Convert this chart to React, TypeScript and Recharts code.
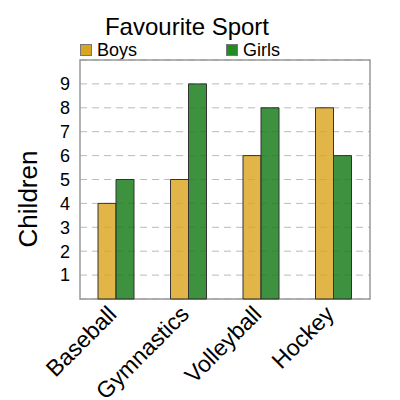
import { BarChart, Bar, XAxis, YAxis, CartesianGrid, ReferenceArea, Label } from 'recharts';

const sports = ['Baseball', 'Gymnastics', 'Volleyball', 'Hockey'];
const boys = [4, 5, 6, 8];
const girls = [5, 9, 8, 6];
const yTicks = [1, 2, 3, 4, 5, 6, 7, 8, 9];

const data = sports.map((sport, i) => ({ sport, boys: boys[i], girls: girls[i] }));

const FONT = '"Liberation Sans", Arial, sans-serif';

const SportTick = ({ x, y, payload }: any) => (
    <g transform={`translate(${x - 10},${y - 3}) rotate(-45)`}>
        <text textAnchor="end" dy="0.72em" fontSize={23} fill="#000" fontFamily={FONT}>
            {payload.value}
        </text>
    </g>
);

const YTitle = () => (
    <text
        transform="translate(28,199) rotate(-90)"
        textAnchor="middle"
        dominantBaseline="central"
        fontSize={26}
        fill="#000"
        fontFamily={FONT}
    >
        Children
    </text>
);

const LegendBox = ({ left, color, label }: { left: number; color: string; label: string }) => (
    <div style={{ position: 'absolute', left, top: 40, display: 'flex', alignItems: 'center' }}>
        <div style={{ width: 10, height: 10, background: color, border: '1px solid #777' }} />
        <span style={{ marginLeft: 5, fontSize: 18, lineHeight: '20px' }}>{label}</span>
    </div>
);

export default function App() {
    return (
        <div style={{ position: 'absolute', left: 0, top: 0, width: 400, height: 400, background: '#fff', fontFamily: FONT }}>
            <div style={{ position: 'absolute', left: 0, width: 374, top: 13, textAlign: 'center', fontSize: 24, lineHeight: '28px' }}>
                Favourite Sport
            </div>
            <LegendBox left={80} color="#DAA520" label="Boys" />
            <LegendBox left={226} color="#228B22" label="Girls" />

            <BarChart
                width={400}
                height={400}
                data={data}
                margin={{ top: 60, right: 30, left: 0, bottom: 0 }}
                barGap={0}
                barSize={18}
            >
                <CartesianGrid vertical={false} strokeDasharray="7 5" stroke="#bbb" />
                <XAxis
                    dataKey="sport"
                    height={101}
                    axisLine={false}
                    tickLine={false}
                    interval={0}
                    tick={<SportTick />}
                />
                <YAxis
                    width={80}
                    domain={[0, 10]}
                    ticks={yTicks}
                    interval={0}
                    axisLine={false}
                    tickLine={false}
                    tickSize={0}
                    tickMargin={10}
                    tick={{ fontSize: 18, fill: '#000', fontFamily: FONT }}
                >
                    <Label content={<YTitle />} />
                </YAxis>
                <ReferenceArea y1={0} y2={10} fill="none" stroke="#999" strokeWidth={1.5} />
                <Bar dataKey="boys" fill="#DAA520" fillOpacity={0.82} stroke="#333" isAnimationActive={false} />
                <Bar dataKey="girls" fill="#1C7E1C" fillOpacity={0.85} stroke="#333" isAnimationActive={false} />
            </BarChart>
        </div>
    );
}
